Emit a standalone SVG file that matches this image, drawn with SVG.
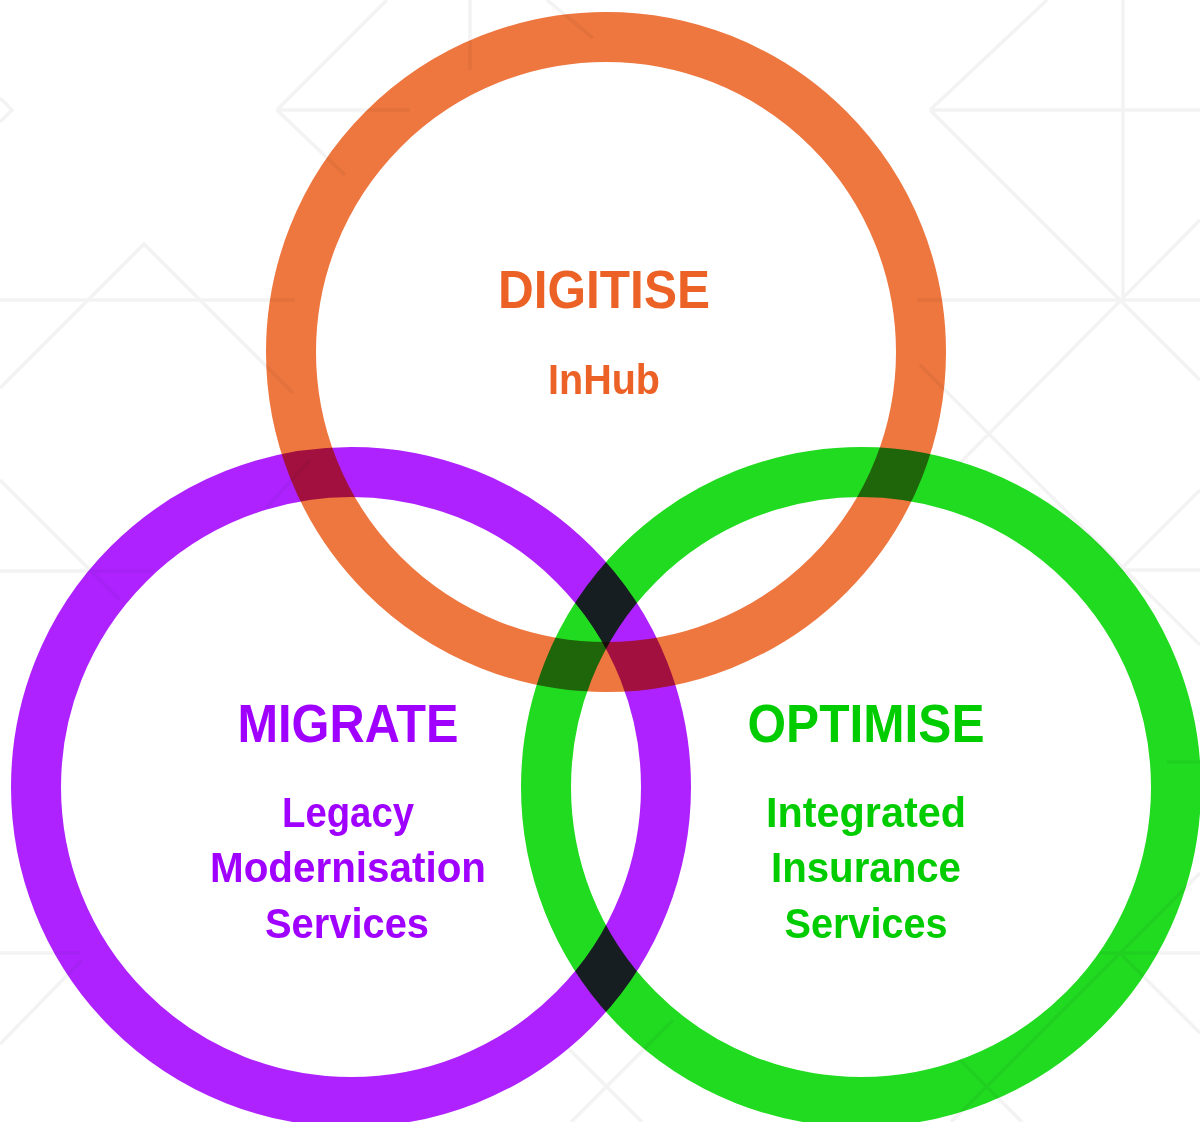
<svg xmlns="http://www.w3.org/2000/svg" width="1200" height="1122" viewBox="0 0 1200 1122">
<style>
.bg{stroke:#f3f3f3;stroke-width:3.5;fill:none;stroke-linecap:butt}
.ring{fill:none;stroke-width:50;mix-blend-mode:multiply}
.t{font-family:"Liberation Sans",Arial,sans-serif;font-weight:bold;text-anchor:middle}
.h{font-size:53px}
.s{font-size:42px}
.o{fill:#ec6125}
.p{fill:#a000ff}
.g{fill:#00cc00}
</style>
<rect width="1200" height="1122" fill="#ffffff"/>
<g id="pattern" class="bg">
<polyline points="0,98 12,110 0,122"/>
<line x1="277" y1="110" x2="387" y2="0"/>
<line x1="277" y1="110" x2="410" y2="110"/>
<line x1="277" y1="110" x2="345" y2="175"/>
<polyline points="0,388 144,244 293,393"/>
<line x1="0" y1="300" x2="295" y2="300"/>
<line x1="470" y1="0" x2="470" y2="70"/>
<line x1="547" y1="0" x2="593" y2="38"/>
<line x1="1047" y1="0" x2="930" y2="110"/>
<line x1="930" y1="110" x2="1200" y2="110"/>
<line x1="1123" y1="0" x2="1123" y2="300"/>
<line x1="930" y1="110" x2="1200" y2="380"/>
<line x1="1200" y1="220" x2="960" y2="463"/>
<line x1="917" y1="300" x2="1200" y2="300"/>
<line x1="920" y1="365" x2="1200" y2="645"/>
<line x1="1200" y1="490" x2="1120" y2="570"/>
<line x1="1120" y1="570" x2="1200" y2="570"/>
<line x1="1167" y1="762" x2="1200" y2="762"/>
<line x1="0" y1="480" x2="120" y2="600"/>
<line x1="0" y1="571" x2="153" y2="571"/>
<line x1="267" y1="507" x2="310" y2="460"/>
<line x1="0" y1="953" x2="80" y2="953"/>
<line x1="82" y1="960" x2="0" y2="1044"/>
<line x1="1100" y1="953" x2="1200" y2="953"/>
<line x1="1200" y1="873" x2="951" y2="1122"/>
<line x1="1120" y1="953" x2="1200" y2="1033"/>
<line x1="960" y1="1060" x2="1022" y2="1122"/>
<line x1="567" y1="1047" x2="642" y2="1122"/>
<line x1="673" y1="1020" x2="571" y2="1122"/>
</g>
<g id="connectors"/>
<g id="node-digitise">
<circle class="ring" cx="606" cy="352" r="315" stroke="#ee763f"/>
<text class="t h o" x="604" y="308" textLength="212" lengthAdjust="spacingAndGlyphs">DIGITISE</text>
<text class="t s o" x="604" y="394" textLength="112" lengthAdjust="spacingAndGlyphs">InHub</text>
</g>
<g id="node-migrate">
<circle class="ring" cx="351" cy="787" r="315" stroke="#ae22ff"/>
<text class="t h p" x="348" y="742" textLength="221" lengthAdjust="spacingAndGlyphs">MIGRATE</text>
<text class="t s p" x="348" y="827" textLength="132" lengthAdjust="spacingAndGlyphs">Legacy</text>
<text class="t s p" x="348" y="882" textLength="276" lengthAdjust="spacingAndGlyphs">Modernisation</text>
<text class="t s p" x="347" y="938" textLength="164" lengthAdjust="spacingAndGlyphs">Services</text>
</g>
<g id="node-optimise">
<circle class="ring" cx="861" cy="787" r="315" stroke="#21db21"/>
<text class="t h g" x="866" y="742" textLength="237" lengthAdjust="spacingAndGlyphs">OPTIMISE</text>
<text class="t s g" x="866" y="827" textLength="200" lengthAdjust="spacingAndGlyphs">Integrated</text>
<text class="t s g" x="866" y="882" textLength="190" lengthAdjust="spacingAndGlyphs">Insurance</text>
<text class="t s g" x="866" y="938" textLength="163" lengthAdjust="spacingAndGlyphs">Services</text>
</g>
</svg>
